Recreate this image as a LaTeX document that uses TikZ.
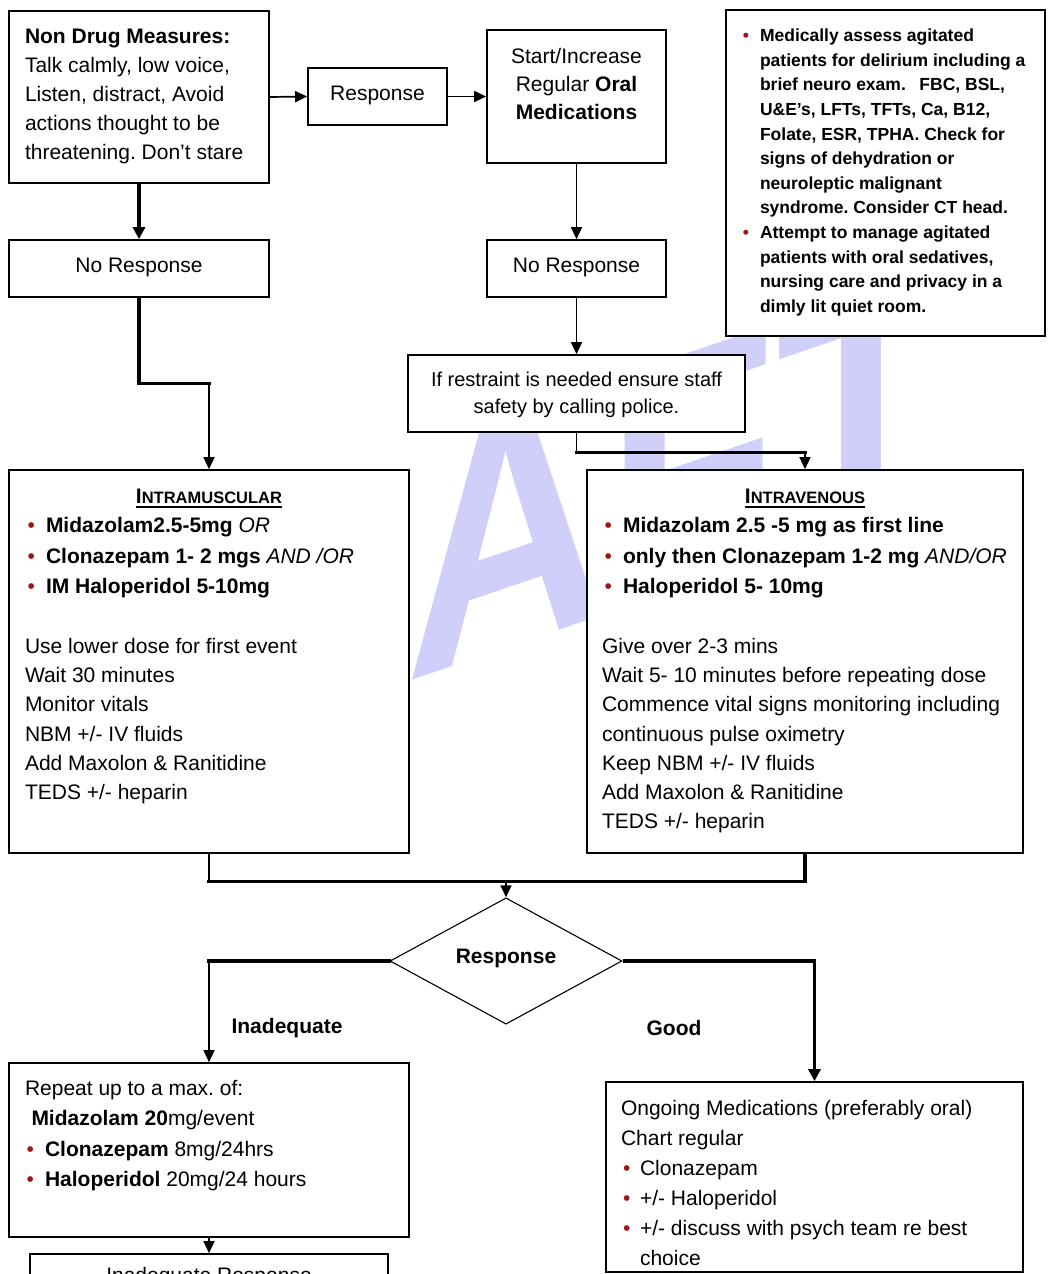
\documentclass[tikz,border=0pt]{standalone}
\usepackage{fontspec}
\setmainfont{Liberation Sans}
\usetikzlibrary{arrows.meta,shapes.geometric,calc}
\definecolor{bred}{RGB}{160,20,20}
\definecolor{wm}{RGB}{207,207,250}
\frenchspacing
\newcommand\txtn{\fontsize{21}{29.3}\selectfont}
\newcommand\firstl[1]{\rule{0pt}{#1pt}}
\newcommand\lbul[1][11pt]{\llap{\textcolor{bred}{•}\hspace{#1}}}
\newcommand\ulx[1]{\setbox0\hbox{#1}\rlap{\rule[-4.5pt]{\wd0}{1.4pt}}\box0}
\newcommand\smallcapsx[2]{\textbf{#1{\fontsize{16.5}{16.5}\selectfont #2}}}
\newcommand\bxc[3]{\begin{minipage}[t][#2pt][t]{#1pt}#3\end{minipage}}
\begin{document}
\begin{tikzpicture}[x=1pt,y=-1pt,
  bx/.style={draw, rectangle, line width=1.7pt, fill=white, inner sep=0pt},
  con/.style={line width=1.7pt, -{Triangle[length=12pt,width=11pt]}},
  thk/.style={line width=3.2pt, line cap=rect},
  lbl/.style={font=\bfseries\txtn, inner sep=0pt}]
\useasboundingbox (0,0) rectangle (1047,1274);
\clip (0,0) rectangle (1047,1274);
\fill[white] (0,0) rectangle (1047,1274);
% watermark
\begin{scope}[shift={(4,819)}, yslant=0.34, yscale=1.22]
\node[transform shape, anchor=base west, inner sep=0pt, text=wm,
      font=\fontsize{278}{278}\selectfont\bfseries] (wmk) at (0,0) {DRAFT};
\end{scope}
% boxes
\node[bx, minimum width=260pt, minimum height=172pt] (nd) at (139,97)
 {\bxc{228}{172}{\fontsize{21}{29}\selectfont\firstl{32.3}\textbf{Non Drug Measures:}\\Talk calmly, low voice,\\Listen, distract, Avoid\\actions thought to be\\threatening. Don't stare\par}};
\node[bx, minimum width=139pt, minimum height=57pt] (resp1) at (377.5,96.5)
 {\bxc{135}{57}{\centering\txtn\firstl{32}Response\par}};
\node[bx, minimum width=179pt, minimum height=133pt] (si) at (576.5,96.5)
 {\bxc{175}{133}{\centering\fontsize{21}{28.3}\selectfont\firstl{33}Start/Increase\\Regular \textbf{Oral}\\\textbf{Medications}\par}};
\node[bx, minimum width=260pt, minimum height=57pt] (nr1) at (139,268.5)
 {\bxc{256}{57}{\centering\txtn\firstl{32.7}No Response\par}};
\node[bx, minimum width=179pt, minimum height=57pt] (nr2) at (576.5,268.5)
 {\bxc{175}{57}{\centering\txtn\firstl{32.7}No Response\par}};
\node[bx, minimum width=319pt, minimum height=326pt] (info) at (885.5,173)
 {\bxc{291}{326}{\fontsize{17.5}{24.6}\selectfont\bfseries\leftskip=20pt\firstl{31.7}\lbul Medically assess agitated\\patients for delirium including a\\brief neuro exam.\hspace{0.5em} FBC, BSL,\\U\&E’s, LFTs, TFTs, Ca, B12,\\Folate, ESR, TPHA. Check for\\signs of dehydration or\\neuroleptic malignant\\syndrome. Consider CT head.\\\lbul Attempt to manage agitated\\patients with oral sedatives,\\nursing care and privacy in a\\dimly lit quiet room.\par}};
\node[bx, minimum width=337pt, minimum height=77pt] (rest) at (576.5,393.5)
 {\bxc{333}{77}{\centering\fontsize{20}{27}\selectfont\firstl{31}If restraint is needed ensure staff\\safety by calling police.\par}};
\node[bx, minimum width=400pt, minimum height=383pt] (im) at (209,661.5)
 {\bxc{368}{383}{\txtn\firstl{33}\makebox[\linewidth]{\ulx{\smallcapsx{I}{NTRAMUSCULAR}}}\\
 \hspace*{21pt}\lbul\textbf{Midazolam2.5-5mg} \textit{OR}\\[1.5pt]
 \hspace*{21pt}\lbul\textbf{Clonazepam 1- 2 mgs} \textit{AND /OR}\\[0.7pt]
 \hspace*{21pt}\lbul\textbf{IM Haloperidol 5-10mg}\\[30.7pt]
 Use lower dose for first event\\Wait 30 minutes\\Monitor vitals\\NBM +/- IV fluids\\Add Maxolon \& Ranitidine\\TEDS +/- heparin\par}};
\node[bx, minimum width=436pt, minimum height=383pt] (iv) at (805,661.5)
 {\bxc{406}{383}{\txtn\firstl{33}\makebox[\linewidth]{\ulx{\smallcapsx{I}{NTRAVENOUS}}}\\
 \hspace*{21pt}\lbul\textbf{Midazolam 2.5 -5 mg as first line}\\[1.5pt]
 \hspace*{21pt}\lbul\textbf{only then Clonazepam 1-2 mg} \textit{AND/OR}\\[0.7pt]
 \hspace*{21pt}\lbul\textbf{Haloperidol 5- 10mg}\\[30.7pt]
 Give over 2-3 mins\\Wait 5- 10 minutes before repeating dose\\Commence vital signs monitoring including\\continuous pulse oximetry\\Keep NBM +/- IV fluids\\Add Maxolon \& Ranitidine\\TEDS +/- heparin\par}};
\node[draw, diamond, line width=1.1pt, fill=white, minimum width=232pt, minimum height=102pt,
      inner sep=0pt, font=\bfseries\txtn, text height=15pt, text depth=11pt] (dia) at (506,961) {Response};
\node[lbl] (linad) at (287,1028) {Inadequate};
\node[lbl] (lgood) at (674,1028) {Good};
\node[bx, minimum width=400pt, minimum height=174pt] (rep) at (209,1150)
 {\bxc{368}{174}{\fontsize{21}{30.5}\selectfont\firstl{32}Repeat up to a max. of:\\\hspace*{6.5pt}\textbf{Midazolam 20}mg/event\\\hspace*{20pt}\lbul\textbf{Clonazepam} 8mg/24hrs\\\hspace*{20pt}\lbul\textbf{Haloperidol} 20mg/24 hours\par}};
\node[bx, minimum width=358pt, minimum height=60pt] (inr) at (209,1284)
 {\bxc{354}{60}{\centering\txtn\firstl{28}Inadequate Response\par}};
\node[bx, minimum width=417pt, minimum height=190pt] (ong) at (814.5,1177)
 {\bxc{387}{190}{\fontsize{21}{30}\selectfont\firstl{33}Ongoing Medications (preferably oral)\\Chart regular\\\hspace*{19pt}\lbul[9.5pt]Clonazepam\\\hspace*{19pt}\lbul[9.5pt]+/- Haloperidol\\\hspace*{19pt}\lbul[9.5pt]+/- discuss with psych team re best\\\hspace*{19pt}choice\par}};
% connectors
\draw[con] (nd.east) -- (resp1.west);
\draw[con] (resp1.east) -- (si.west);
\draw[line width=3.2pt, -{Triangle[length=12pt,width=12pt]}] (nd.south) -- (nr1.north);
\draw[con] (si.south) -- (nr2.north);
\draw[con] (nr2.south) -- (rest.north);
\coordinate (j1) at ($(nr1.south)+(0,86)$);
\draw[con] (nr1.south) -- (j1) -| (im.north);
\draw[thk] (nr1.south) -- (j1) -- (j1 -| im.north);
\coordinate (j2) at ($(rest.south)+(0,20)$);
\draw[con] (rest.south) -- (j2) -| (iv.north);
\draw[thk] (j2) -- (j2 -| iv.north);
\coordinate (j3) at ($(im.south)+(0,28)$);
\coordinate (j4) at ($(iv.south)+(0,28)$);
\draw[line width=1.7pt] (im.south) -- (j3);
\draw[thk] (j3) -- (j4) -- (iv.south);
\draw[con] (j3 -| dia.north) -- (dia.north);
\draw[con] (dia.west) -| (rep.north);
\draw[thk] (dia.west) -- (dia.west -| rep.north);
\draw[line width=3.2pt, -{Triangle[length=12pt,width=12pt]}] (dia.east) -| (ong.north);
\draw[con] (rep.south) -- (inr.north);
\end{tikzpicture}
\end{document}
